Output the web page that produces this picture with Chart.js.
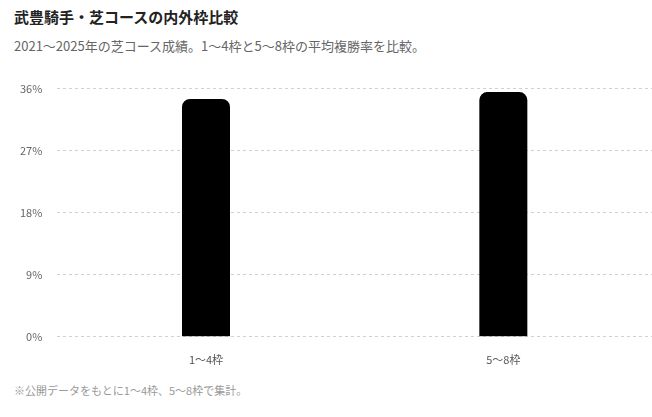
<!DOCTYPE html>
<html><head><meta charset="utf-8">
<script src="https://cdn.jsdelivr.net/npm/chart.js@4"></script>
<style>
html,body{margin:0;padding:0;background:#fff;width:652px;height:417px;overflow:hidden;font-family:"Noto Sans CJK JP","Noto Sans",sans-serif;}
#title{position:absolute;left:14px;top:6px;font-size:15px;font-weight:bold;color:#222;}
#sub{position:absolute;left:14px;top:36px;font-size:13px;color:#666;}
#wrap{position:absolute;left:0;top:67px;width:652px;height:307px;}
#foot{position:absolute;left:14px;top:382px;font-size:11px;color:#999;}
</style></head><body>
<div id="title">武豊騎手・芝コースの内外枠比較</div>
<div id="sub">2021〜2025年の芝コース成績。1〜4枠と5〜8枠の平均複勝率を比較。</div>
<div id="wrap"><canvas id="c"></canvas></div>
<div id="foot">※公開データをもとに1〜4枠、5〜8枠で集計。</div>
<script>
const categories = ["1〜4枠", "5〜8枠"];
const placeRate = [34.5, 35.5];
const yTicks = [0, 9, 18, 27, 36];

new Chart(document.getElementById('c'), {
  type: 'bar',
  data: {
    labels: categories,
    datasets: [{
      data: placeRate,
      backgroundColor: '#000',
      borderRadius: {topLeft: 8, topRight: 8},
      borderSkipped: 'bottom',
      maxBarThickness: 48
    }]
  },
  options: {
    responsive: true,
    maintainAspectRatio: false,
    animation: false,
    layout: {padding: {left: 5, right: 0, top: 4, bottom: 0}},
    plugins: {legend: {display: false}, tooltip: {enabled: false}},
    scales: {
      x: {
        grid: {display: false},
        border: {display: false},
        ticks: {color: '#555', font: {size: 11, family: '"Noto Sans CJK JP"'}, padding: 8}
      },
      y: {
        min: 0, max: 36,
        afterBuildTicks: s => { s.ticks = yTicks.map(v => ({value: v})); },
        grid: {color: '#d0d0d0', drawTicks: false},
        border: {display: false, dash: [3, 3]},
        ticks: {color: '#666', font: {size: 11, family: '"Noto Sans CJK JP"'}, padding: 15, callback: v => v + '%'}
      }
    }
  }
});
</script>
</body></html>
